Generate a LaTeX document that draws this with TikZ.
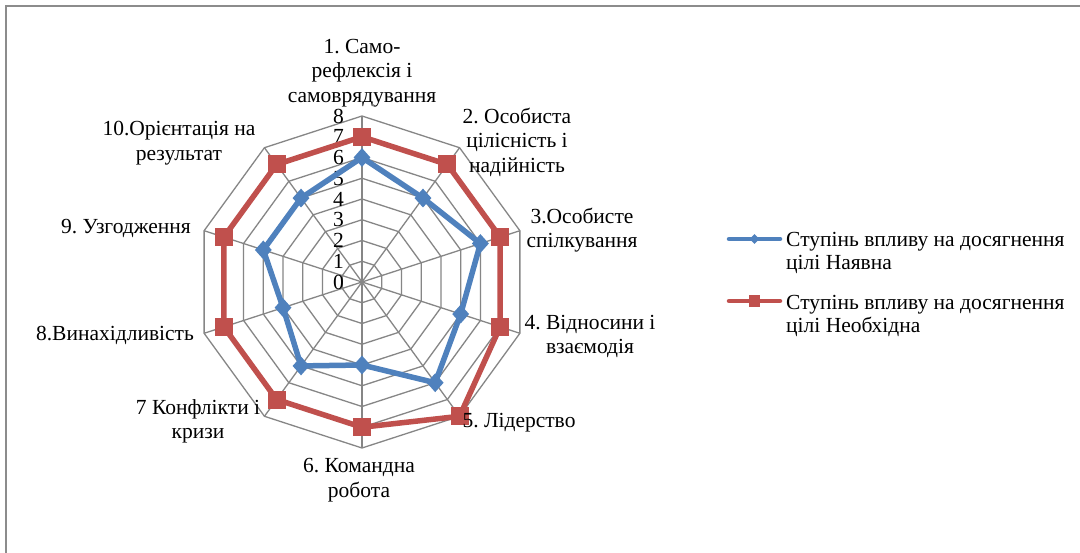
\documentclass[tikz,border=0pt]{standalone}
\usepackage{fontspec}
\setmainfont{Liberation Serif}
\frenchspacing
\usetikzlibrary{shapes.geometric}
\definecolor{serA}{HTML}{4F81BD}
\definecolor{serB}{HTML}{C0504D}
\definecolor{gridc}{HTML}{868686}
\definecolor{framec}{HTML}{8C8C8C}
\begin{document}
\begin{tikzpicture}[x=1pt,y=-1pt,
  lbl/.style={font=\fontsize{21.5}{24.5}\selectfont, align=center, inner sep=0pt},
  tick/.style={font=\fontsize{21.5}{24}\selectfont, inner sep=0pt, anchor=east},
  gridline/.style={draw=gridc, line width=1.3pt, line join=miter},
  serline/.style={line width=5.5pt, line join=round},
  sqmark/.style={rectangle, fill=serB, minimum size=18pt, inner sep=0pt, draw=none},
  dmmark/.style={diamond, fill=serA, minimum width=17pt, minimum height=19pt, inner sep=0pt, draw=none},
  sqsmall/.style={rectangle, fill=serB, minimum size=11.5pt, inner sep=0pt, draw=none},
  dmsmall/.style={diamond, fill=serA, minimum width=10pt, minimum height=10pt, inner sep=0pt, draw=none},
  legline/.style={line width=4.5pt, line cap=round},
  legtext/.style={font=\fontsize{21.5}{22.5}\selectfont, align=left, anchor=west, inner sep=0pt},
]
\useasboundingbox (0,0) rectangle (1080,553);
\fill[white] (0,0) rectangle (1080,553);
% frame
\coordinate (f1) at (6,553);
\coordinate (f2) at (6,6);
\coordinate (f3) at (1080,6);
\draw[framec, line width=1.6pt] (f1) -- (f2) -- (f3);

% grid rings
\foreach \k in {1,...,8} {
  \draw[gridline] plot[samples at={0,...,9}] ({362+\k*20.75*cos(90-36*\x)}, {282-\k*20.75*sin(90-36*\x)}) -- cycle;
}
\coordinate (O) at (362,282);
\foreach \i in {0,...,9} {
  \coordinate (s\i) at ({362+166*cos(90-36*\i)}, {282-166*sin(90-36*\i)});
  \draw[gridline] (O) -- (s\i);
}

% tick labels
\foreach \k in {0,...,8} {
  \node[tick] (t\k) at (344,{282-\k*20.75}) {\k};
}

% series A (blue)
\foreach \v [count=\i from 0] in {6,5,6,5,6,4,5,4,5,5} {
  \coordinate (a\i) at ({362+20.75*\v*cos(90-36*\i)}, {282-20.75*\v*sin(90-36*\i)});
}
\draw[serA, serline] (a0) -- (a1) -- (a2) -- (a3) -- (a4) -- (a5) -- (a6) -- (a7) -- (a8) -- (a9) -- cycle;
\foreach \i in {0,...,9} { \node[dmmark] (ma\i) at (a\i) {}; }

% series B (red)
\foreach \v [count=\i from 0] in {7,7,7,7,8,7,7,7,7,7} {
  \coordinate (b\i) at ({362+20.75*\v*cos(90-36*\i)}, {282-20.75*\v*sin(90-36*\i)});
}
\draw[serB, serline] (b0) -- (b1) -- (b2) -- (b3) -- (b4) -- (b5) -- (b6) -- (b7) -- (b8) -- (b9) -- cycle;
\foreach \i in {0,...,9} { \node[sqmark] (mb\i) at (b\i) {}; }

% axis labels
\node[lbl] (l1) at (362,73) {1. Само-\\рефлексія і\\самоврядування};
\node[lbl] (l2) at (517,142) {2. Особиста\\цілісність і\\надійність};
\node[lbl] (l3) at (582,230) {3.Особисте\\спілкування};
\node[lbl] (l4) at (590,336.5) {4. Відносини і\\взаємодія};
\node[lbl] (l5) at (519,423) {5. Лідерство};
\node[lbl] (l6) at (359,480) {6. Командна\\робота};
\node[lbl] (l7) at (198,421.5) {7 Конфлікти і\\кризи};
\node[lbl] (l8) at (115,335) {8.Винахідливість};
\node[lbl] (l9) at (126,228) {9. Узгодження};
\node[lbl] (l10) at (179,143) {10.Орієнтація на\\результат};

% legend
\coordinate (la1) at (729,239);
\coordinate (la2) at (780,239);
\draw[serA, legline] (la1) -- (la2);
\node[dmsmall] (lma) at (754.5,239) {};
\node[legtext] (lta) at (786,253) {Ступінь впливу на досягнення\\цілі Наявна};
\coordinate (lb1) at (729,301);
\coordinate (lb2) at (780,301);
\draw[serB, legline] (lb1) -- (lb2);
\node[sqsmall] (lmb) at (754.5,301) {};
\node[legtext] (ltb) at (786,316) {Ступінь впливу на досягнення\\цілі Необхідна};
\end{tikzpicture}
\end{document}
